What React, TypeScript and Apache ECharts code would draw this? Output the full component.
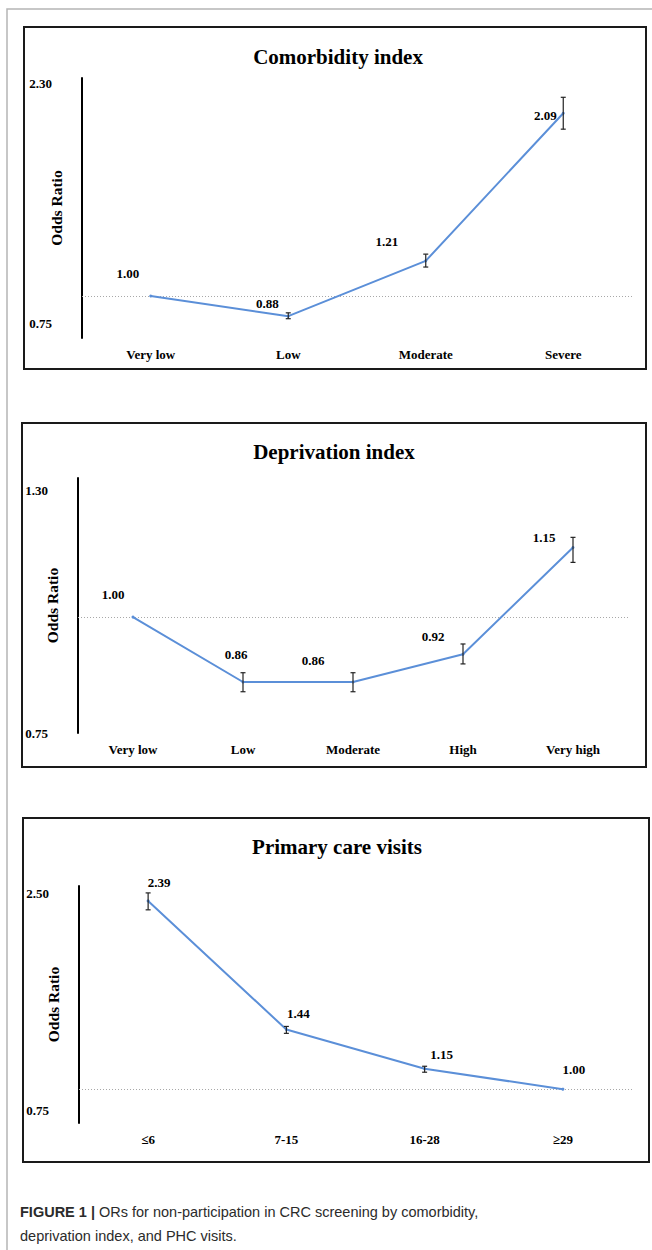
import React, { useEffect, useRef } from "react";
import * as echarts from "echarts";

// ---------- Data ----------
const comorbidityCategories = ["Very low", "Low", "Moderate", "Severe"];
const comorbidityOR = [1.0, 0.88, 1.21, 2.09];
const comorbidityLower = [1.0, 0.865, 1.173, 1.995];
const comorbidityUpper = [1.0, 0.9, 1.25, 2.185];
const comorbidityAxisRange = [0.75, 2.3];

const deprivationCategories = ["Very low", "Low", "Moderate", "High", "Very high"];
const deprivationOR = [1.0, 0.86, 0.86, 0.92, 1.15];
const deprivationLower = [1.0, 0.839, 0.839, 0.899, 1.118];
const deprivationUpper = [1.0, 0.88, 0.88, 0.942, 1.172];
const deprivationAxisRange = [0.75, 1.3];

const visitsCategories = ["≤6", "7-15", "16-28", "≥29"];
const visitsOR = [2.39, 1.44, 1.15, 1.0];
const visitsLower = [2.324, 1.412, 1.125, 1.0];
const visitsUpper = [2.449, 1.463, 1.169, 1.0];
const visitsAxisRange = [0.75, 2.5];

const referenceOR = 1.0;

const titles = ["Comorbidity index", "Deprivation index", "Primary care visits"];
const yAxisTitle = "Odds Ratio";
const captionBold = "FIGURE 1 |";
const captionLine1 = " ORs for non-participation in CRC screening by comorbidity,";
const captionLine2 = "deprivation index, and PHC visits.";

// ---------- Layout (positions / styles only) ----------
const SERIF = "'Liberation Serif', 'Times New Roman', serif";
const SANS = "'Liberation Sans', Arial, sans-serif";
const LINE_COLOR = "#5b8fd8";

const layouts = [
  {
    box: [24, 27, 622, 342],
    titleXY: [338, 57],
    grid: { left: 82, top: 78, width: 550, height: 260 },
    labelOffsets: [[-23, -23], [-21, -13], [-39, -19], [-18, 2]],
    tickShift: [5, -15],
    labelMargin: 30,
  },
  {
    box: [22, 423, 624, 344],
    titleXY: [334, 452],
    grid: { left: 78, top: 478, width: 550, height: 255 },
    labelOffsets: [[-20, -23], [-7, -28], [-40, -22], [-30, -18], [-29, -10]],
    tickShift: [12, 0],
    labelMargin: 30,
  },
  {
    box: [23, 818, 626, 344],
    titleXY: [337, 847],
    grid: { left: 79, top: 886, width: 553, height: 237 },
    labelOffsets: [[11, -18], [12, -16], [17, -14], [11, -20]],
    tickShift: [7, -13],
    labelMargin: 30,
  },
];

const panelData = [
  { cats: comorbidityCategories, or: comorbidityOR, lo: comorbidityLower, hi: comorbidityUpper, range: comorbidityAxisRange },
  { cats: deprivationCategories, or: deprivationOR, lo: deprivationLower, hi: deprivationUpper, range: deprivationAxisRange },
  { cats: visitsCategories, or: visitsOR, lo: visitsLower, hi: visitsUpper, range: visitsAxisRange },
];

function buildOption() {
  const grids: any[] = [];
  const xAxes: any[] = [];
  const yAxes: any[] = [];
  const series: any[] = [];
  const graphics: any[] = [];

  // outer frame (top + left edges)
  graphics.push({
    type: "polyline",
    shape: { points: [[7, 1250], [7, 9], [652, 9]] },
    style: { stroke: "#b5b5b5", lineWidth: 1.5, fill: "none" },
    silent: true,
  });

  panelData.forEach((p, i) => {
    const L = layouts[i];
    grids.push({ ...L.grid, containLabel: false });

    graphics.push({
      type: "rect",
      shape: { x: L.box[0], y: L.box[1], width: L.box[2], height: L.box[3] },
      style: { fill: "none", stroke: "#1a1a1a", lineWidth: 2 },
      silent: true,
    });
    graphics.push({
      type: "text",
      x: L.titleXY[0],
      y: L.titleXY[1],
      style: {
        text: titles[i],
        font: `bold 21px ${SERIF}`,
        fill: "#000",
        textAlign: "center",
        textVerticalAlign: "middle",
      },
      silent: true,
    });

    xAxes.push({
      type: "category",
      gridIndex: i,
      data: p.cats,
      boundaryGap: true,
      axisLine: { show: false },
      axisTick: { show: false },
      splitLine: { show: false },
      axisLabel: {
        margin: 10,
        color: "#000",
        fontFamily: SERIF,
        fontWeight: "bold",
        fontSize: 13,
        interval: 0,
      },
    });

    const [mn, mx] = p.range;
    yAxes.push({
      type: "value",
      gridIndex: i,
      min: mn,
      max: mx,
      name: yAxisTitle,
      nameLocation: "middle",
      nameGap: 18,
      nameMoveOverlap: false,
      nameTextStyle: { color: "#000", fontFamily: SERIF, fontWeight: "bold", fontSize: 15.5 },
      axisLine: { show: true, lineStyle: { color: "#000", width: 2 } },
      axisTick: { show: false },
      splitLine: { show: false },
      axisLabel: {
        customValues: [mn, mx],
        showMinLabel: true,
        showMaxLabel: true,
        margin: L.labelMargin,
        color: "#000",
        formatter: (v: number) =>
          Math.abs(v - mx) < 1e-9 ? `{t|${v.toFixed(2)}}` : `{b|${v.toFixed(2)}}`,
        rich: {
          t: {
            fontFamily: SERIF,
            fontWeight: "bold",
            fontSize: 13,
            color: "#000",
            padding: [Math.max(0, 2 * L.tickShift[0]), 0, 0, 0],
          },
          b: {
            fontFamily: SERIF,
            fontWeight: "bold",
            fontSize: 13,
            color: "#000",
            padding: [0, 0, Math.max(0, -2 * L.tickShift[1]), 0],
          },
        },
      },
    });

    series.push({
      type: "line",
      xAxisIndex: i,
      yAxisIndex: i,
      data: p.or.map((v, k) => ({
        value: v,
        label: { offset: L.labelOffsets[k] },
      })),
      symbol: "circle",
      symbolSize: 3,
      showSymbol: true,
      itemStyle: { color: LINE_COLOR },
      lineStyle: { color: LINE_COLOR, width: 2 },
      label: {
        show: true,
        position: "inside",
        formatter: (d: any) => Number(d.value).toFixed(2),
        color: "#000",
        fontFamily: SERIF,
        fontWeight: "bold",
        fontSize: 13,
      },
      markLine: {
        silent: true,
        symbol: "none",
        label: { show: false },
        lineStyle: { color: "#a8a8a8", type: [1, 2], width: 1 },
        data: [{ yAxis: referenceOR }],
        z: 1,
      },
      z: 3,
    });

    const errData = p.cats
      .map((_, k) => [k, p.lo[k], p.hi[k]])
      .filter((d) => (d[2] as number) - (d[1] as number) > 1e-9);

    series.push({
      type: "custom",
      xAxisIndex: i,
      yAxisIndex: i,
      data: errData,
      encode: { x: 0, y: [1, 2] },
      z: 4,
      renderItem: (params: any, api: any) => {
        const x = api.value(0);
        const top = api.coord([x, api.value(2)]);
        const bot = api.coord([x, api.value(1)]);
        const w = 2.5;
        const st = { stroke: "#222", lineWidth: 1.2 };
        return {
          type: "group",
          children: [
            { type: "line", shape: { x1: top[0], y1: top[1], x2: bot[0], y2: bot[1] }, style: st },
            { type: "line", shape: { x1: top[0] - w, y1: top[1], x2: top[0] + w, y2: top[1] }, style: st },
            { type: "line", shape: { x1: bot[0] - w, y1: bot[1], x2: bot[0] + w, y2: bot[1] }, style: st },
          ],
        };
      },
    });
  });

  // caption
  graphics.push({
    type: "text",
    x: 20,
    y: 1212,
    style: {
      text: `{b|${captionBold}}{r|${captionLine1}}`,
      textVerticalAlign: "middle",
      rich: {
        b: { font: `bold 14.5px ${SANS}`, fill: "#2b2b2b", fontWeight: "bold", fontSize: 14.5 },
        r: { font: `14.5px ${SANS}`, fill: "#2b2b2b", fontSize: 14.5 },
      },
      font: `14.5px ${SANS}`,
      fill: "#2b2b2b",
    },
    silent: true,
  });
  graphics.push({
    type: "text",
    x: 20,
    y: 1236,
    style: {
      text: captionLine2,
      font: `14.5px ${SANS}`,
      fill: "#2b2b2b",
      textVerticalAlign: "middle",
    },
    silent: true,
  });

  return {
    animation: false,
    backgroundColor: "#ffffff",
    grid: grids,
    xAxis: xAxes,
    yAxis: yAxes,
    series,
    graphic: graphics,
  };
}

export default function App() {
  const ref = useRef<HTMLDivElement>(null);
  useEffect(() => {
    if (!ref.current) return;
    const chart = echarts.init(ref.current, undefined, { renderer: "svg" });
    chart.setOption(buildOption() as any);
    return () => chart.dispose();
  }, []);
  return (
    <div
      ref={ref}
      style={{ position: "absolute", left: 0, top: 0, width: 652, height: 1250, background: "#fff" }}
    />
  );
}
